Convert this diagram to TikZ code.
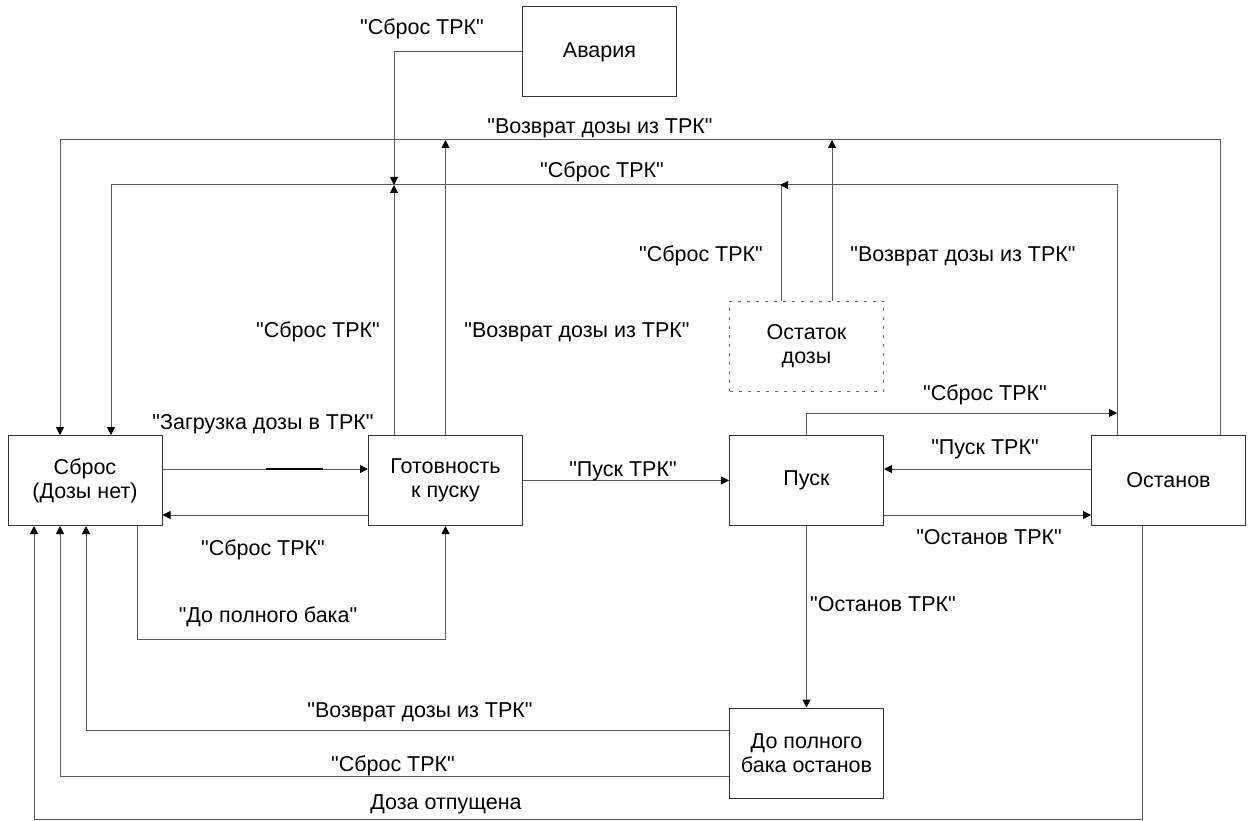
\documentclass[tikz,border=0pt]{standalone}
\usepackage{fontspec}
\setmainfont{Liberation Sans}[Ligatures=TeXOff]
\usetikzlibrary{arrows.meta}
\begin{document}
\begin{tikzpicture}[x=1pt,y=-1pt,
  box/.style={draw=black!80, line width=1pt, minimum width=154pt, minimum height=90pt, inner sep=0pt, align=center, font=\fontsize{21.5}{24}\selectfont},
  dbox/.style={box, draw=black!60, dash pattern=on 3pt off 6pt},
  conn/.style={draw=black!65, line width=1pt},
  arr/.style={conn, -{Triangle[length=8pt,width=8pt,color=black]}},
  lbl/.style={font=\fontsize{21.5}{24}\selectfont, inner sep=0pt}
]
\useasboundingbox (0,0) rectangle (1250,821);
% states
\node[box] (avaria) at (599.5,52) {Авария};
\node[box] (sbros) at (85,480.5) {Сброс\\(Дозы нет)};
\node[box] (gotov) at (445.5,480.5) {Готовность\\к пуску};
\node[box] (pusk) at (806.5,480.5) {Пуск};
\node[box] (ostanov) at (1168.5,480.5) {Останов};
\node[dbox] (ostatok) at (806.5,346) {Остаток\\дозы};
\node[box] (dpbo) at (806.5,753) {До полного\\бака останов};
% helper coordinates
\coordinate (ja) at (394,185);
\coordinate (tR) at (1220,140);
\coordinate (tL) at (60,140);
\coordinate (sR) at (1117,185);
\coordinate (sL) at (111,185);
\coordinate (oS) at (781,185);
\coordinate (oV) at (832,140);
\coordinate (gV) at (445.5,140);
\coordinate (pS) at (1117,413);
\coordinate (bF) at (137,639);
\coordinate (r1) at (86,730);
\coordinate (r2) at (60,776);
\coordinate (r3) at (34,819);
\coordinate (r3R) at (1142,819);
% connectors
\draw[arr] (avaria.west) -| (ja);
\draw[arr] (ja |- gotov.north) -- (ja);
\draw[arr] (sR |- ostanov.north) -- (sR) -- (sL) -- (sL |- sbros.north);
\draw[arr] (tR |- ostanov.north) -- (tR) -- (tL) -- (tL |- sbros.north);
\draw[arr] (gotov.north) -- (gV);
\draw[arr] (oS |- ostatok.north) -- (oS) -- ++(-1,0);
\draw[arr] (oV |- ostatok.north) -- (oV);
\draw[arr] (sbros.east |- 0,469) -- (gotov.west |- 0,469);
\draw[line width=2.5pt, black] (266,469) -- (323,469);
\draw[arr] (gotov.west |- 0,515) -- (sbros.east |- 0,515);
\draw[arr] (bF |- sbros.south) -- (bF) -| (gotov.south);
\draw[arr] (gotov.east) -- (pusk.west);
\draw[arr] (ostanov.west |- 0,469) -- (pusk.east |- 0,469);
\draw[arr] (pusk.east |- 0,515) -- (ostanov.west |- 0,515);
\draw[arr] (pusk.north) |- (pS);
\draw[arr] (pusk.south) -- (dpbo.north);
\draw[arr] (dpbo.west |- r1) -| (r1 |- sbros.south);
\draw[arr] (dpbo.west |- r2) -| (r2 |- sbros.south);
\draw[arr] (r3R |- ostanov.south) -- (r3R) -- (r3) -- (r3 |- sbros.south);
% labels
\node[lbl] (l1) at (422,29) {"Сброс ТРК"};
\node[lbl] (l2) at (600,128) {"Возврат дозы из ТРК"};
\node[lbl] (l3) at (602,172) {"Сброс ТРК"};
\node[lbl] (l4) at (701,256) {"Сброс ТРК"};
\node[lbl] (l5) at (963,256) {"Возврат дозы из ТРК"};
\node[lbl] (l6) at (318,332) {"Сброс ТРК"};
\node[lbl] (l7) at (577,332) {"Возврат дозы из ТРК"};
\node[lbl] (l8) at (985,395) {"Сброс ТРК"};
\node[lbl] (l9) at (263,424) {"Загрузка дозы в ТРК"};
\node[lbl] (l10) at (623,471) {"Пуск ТРК"};
\node[lbl] (l11) at (985,449) {"Пуск ТРК"};
\node[lbl] (l12) at (263,550) {"Сброс ТРК"};
\node[lbl] (l13) at (989,537) {"Останов ТРК"};
\node[lbl] (l14) at (268,617) {"До полного бака"};
\node[lbl] (l15) at (883,604) {"Останов ТРК"};
\node[lbl] (l16) at (420,712) {"Возврат дозы из ТРК"};
\node[lbl] (l17) at (393,766) {"Сброс ТРК"};
\node[lbl] (l18) at (446,804) {Доза отпущена};
\end{tikzpicture}
\end{document}
